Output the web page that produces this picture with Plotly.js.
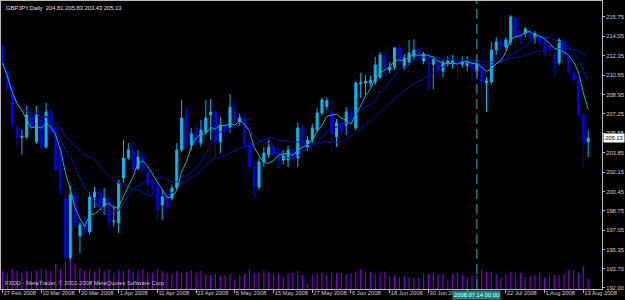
<!DOCTYPE html>
<html><head><meta charset="utf-8">
<script src="https://cdn.plot.ly/plotly-3.0.1.min.js"></script>
<style>html,body{margin:0;padding:0;background:#000;}#chart{width:625px;height:300px;}</style>
</head><body><div id="chart"></div>
<script>
// Daily GBPJPY bars, 27 Feb 2008 .. 14 Aug 2008 (bar index 0..121)
const openP = [213.12,211.02,209.53,206.10,205.20,205.24,207.07,204.80,206.73,204.36,207.43,206.03,204.10,199.89,194.64,200.15,196.56,197.70,196.91,199.97,200.41,199.19,199.88,197.80,197.70,201.64,203.39,204.10,202.50,203.48,202.17,201.10,201.03,199.27,200.15,199.88,200.76,204.10,207.34,204.53,205.90,204.70,205.68,207.16,207.43,204.80,206.29,206.11,207.51,206.55,206.73,204.70,202.60,200.85,203.05,203.66,204.36,203.83,203.20,203.22,204.10,203.40,206.03,204.36,204.97,205.85,207.34,207.90,207.40,205.24,206.47,206.29,207.43,206.03,209.90,209.97,209.97,210.06,210.50,212.42,211.10,211.37,213.03,211.37,211.80,212.30,212.86,211.90,212.16,211.60,211.70,211.00,211.72,211.65,211.80,211.60,211.50,211.70,211.00,211.45,209.97,210.06,212.86,213.56,213.10,213.56,215.66,214.30,214.30,214.40,213.90,214.00,213.90,213.30,212.42,211.72,213.56,212.30,210.85,210.23,207.16,204.81];
const highP = [213.30,211.28,209.70,206.30,205.85,207.95,207.43,207.95,207.60,208.20,207.78,206.29,204.54,200.42,201.00,200.60,197.80,198.40,200.40,200.85,201.20,200.76,200.10,199.27,201.50,204.97,204.70,204.97,204.10,203.90,202.80,201.50,201.50,200.60,200.60,201.00,204.70,208.48,207.77,206.03,206.30,206.73,208.48,208.56,207.60,206.98,206.60,209.00,208.30,207.30,207.20,205.00,203.00,203.40,204.36,204.97,204.80,204.20,204.10,204.50,204.40,206.50,206.30,205.30,206.40,207.80,208.70,208.70,208.30,206.80,206.90,207.86,207.77,210.10,210.85,210.70,210.60,212.25,212.68,212.70,211.80,213.12,213.30,212.50,213.74,213.80,213.10,212.70,212.50,212.30,212.20,212.00,212.30,212.40,212.40,212.30,212.30,212.00,212.00,211.70,210.50,213.56,214.00,213.90,214.00,215.90,215.80,214.50,214.90,214.60,214.50,214.20,214.10,213.60,212.70,213.90,213.80,212.60,211.20,210.50,207.30,205.83];
const lowP = [211.46,209.18,206.10,204.20,203.66,205.06,205.85,204.62,204.10,204.18,205.32,202.17,200.15,194.11,194.30,197.20,195.07,196.60,196.70,199.00,198.70,198.40,197.26,197.35,196.80,201.20,203.20,202.20,202.30,202.10,200.20,200.15,197.96,197.96,198.40,199.70,200.60,203.90,204.27,204.10,204.40,204.40,205.50,204.97,203.40,203.80,204.90,205.60,206.40,206.20,204.20,202.30,199.90,200.60,202.60,203.40,203.30,202.50,202.80,202.60,203.10,202.60,204.10,204.00,204.70,205.60,207.10,207.60,204.00,204.36,205.30,205.40,206.30,205.80,208.65,208.90,209.60,209.80,210.30,210.50,210.80,211.10,211.50,211.10,211.50,212.00,211.90,211.60,209.35,209.40,210.50,210.50,211.40,211.20,210.20,211.30,211.00,210.20,210.50,208.50,207.43,209.80,212.40,212.00,212.80,213.30,213.10,213.30,214.00,213.60,213.40,213.10,212.40,212.30,210.67,211.50,212.10,210.70,209.90,207.00,202.50,203.43];
const closeP = [211.72,209.44,206.37,205.15,205.28,207.16,206.11,207.16,204.36,207.43,205.59,202.35,200.59,194.64,200.15,197.50,197.52,197.00,199.97,200.41,199.10,199.88,197.70,197.87,201.20,203.39,204.10,202.35,203.48,202.35,201.03,200.76,198.84,199.97,199.10,200.76,204.10,206.90,204.53,205.50,204.70,205.85,206.90,207.43,204.80,206.29,205.70,207.86,206.73,206.90,204.54,202.60,200.85,203.05,203.83,204.36,203.66,203.22,203.70,204.10,203.40,206.03,204.36,204.97,206.03,207.34,208.48,208.40,205.50,206.47,205.68,207.43,206.73,209.97,210.00,210.10,210.23,211.54,212.42,211.28,211.37,213.03,211.80,212.16,212.60,212.86,212.42,212.42,211.54,212.00,211.00,211.72,211.90,211.90,211.60,211.90,211.90,211.20,211.72,209.97,210.15,212.86,213.56,213.10,213.74,215.75,214.00,213.90,214.70,214.00,214.30,213.45,212.60,212.90,211.72,213.74,212.42,211.00,210.23,207.16,204.80,205.13];
const volume = [18000,16300,19700,18000,16300,18000,17300,18000,19700,18700,18000,25300,19700,27300,28000,24700,21300,18000,19700,17300,21300,18000,19700,16300,18700,18000,19700,17300,16300,19700,17300,16300,19700,18000,16300,15300,18000,16300,17300,18700,16300,18000,15300,14000,14700,13000,14000,15300,9000,14000,15300,19700,16300,16300,18000,16300,15300,15300,12000,16300,16300,18000,14000,5300,14000,16300,16300,14000,17300,16300,16300,14700,16300,17300,19700,16300,17300,15300,16300,17300,13000,14000,11300,13000,12000,11300,11300,14700,15300,16300,15300,14700,8700,14700,16300,14000,12000,13000,14000,19700,17300,17300,14700,11300,14000,17300,16300,16300,12000,13000,14000,16300,11300,14000,14000,14000,14700,19700,18700,16300,23000,10700];
// tick at bar 96 (10 Jul) is hidden under the cursor date box, as in the original
const tickIdx = [0,8,16,24,32,40,48,56,64,72,80,88,96,104,112,120];
const tickLabels = ["27 Feb 2008","10 Mar 2008","20 Mar 2008","1 Apr 2008","11 Apr 2008","23 Apr 2008","5 May 2008","15 May 2008","27 May 2008","6 Jun 2008","18 Jun 2008","30 Jun 2008","","22 Jul 2008","1 Aug 2008","13 Aug 2008"];
const priceTicks = [215.75,214.05,212.35,210.65,208.95,207.25,205.55,203.85,202.15,200.45,198.75,197.05,195.35,193.70,192.00];
const symbol = "GBPJPY,Daily";
const copyright = "FXDD - MetaTrader, \u00a9 2001-2008 MetaQuotes Software Corp.";
const markerIdx = 98;
const markerLabel = "2008.07.14 00:00";
const maPeriods = [5, 10, 20];

const idx = closeP.map((_, i) => i);
function sma(arr, n) {
  return arr.map((_, i) => {
    const s = Math.max(0, i - n + 1);
    let t = 0; for (let k = s; k <= i; k++) t += arr[k];
    return t / (i - s + 1);
  });
}
const FONT = '"Liberation Sans", Arial, sans-serif';
const last = closeP.length - 1;

const traces = [
  {type:'bar', x: idx, y: volume, yaxis:'y2', marker:{color:'#7a00d0', line:{width:0}}, width:0.25, hoverinfo:'skip'},
  {type:'candlestick', x: idx, open: openP, high: highP, low: lowP, close: closeP,
   increasing:{line:{color:'#00b4f0', width:1}, fillcolor:'#00bfff'},
   decreasing:{line:{color:'#0000d8', width:1}, fillcolor:'#0000ff'},
   whiskerwidth:0, hoverinfo:'skip'},
  {type:'scatter', mode:'lines', x: idx, y: sma(closeP, maPeriods[2]), line:{color:'#1010a8', width:1}, hoverinfo:'skip'},
  {type:'scatter', mode:'lines', x: idx, y: sma(closeP, maPeriods[1]), line:{color:'#1010b8', width:1}, hoverinfo:'skip'},
  {type:'scatter', mode:'lines', x: idx, y: sma(closeP, maPeriods[0]), line:{color:'#20b2aa', width:1}, hoverinfo:'skip'}
];

const layout = {
  width:625, height:300, showlegend:false,
  paper_bgcolor:'#000000', plot_bgcolor:'#000000',
  margin:{l:1, r:23, t:1, b:11, pad:0},
  boxgap:0.4,
  font:{family:FONT, size:6, color:'#d0d0d0'},
  xaxis:{range:[-0.31, 123.86], showgrid:false, zeroline:false, rangeslider:{visible:false},
    showline:true, mirror:true, linecolor:'#b8b8b8', linewidth:1,
    tickmode:'array', tickvals:tickIdx, ticktext:tickLabels, ticks:'outside', ticklen:3, tickcolor:'#b8b8b8',
    tickangle:0, ticklabelposition:'outside right', ticklabelstandoff:-2,
    tickfont:{family:FONT, size:5.8, color:'#d0d0d0'}},
  yaxis:{range:[191.91, 217.15], side:'right', showgrid:false, zeroline:false,
    showline:true, mirror:true, linecolor:'#b8b8b8', linewidth:1,
    tickmode:'array', tickvals:priceTicks, ticktext:priceTicks.map(v => v.toFixed(2)),
    ticks:'outside', ticklen:2, tickcolor:'#b8b8b8', tickfont:{family:FONT, size:5.8, color:'#d0d0d0'}},
  yaxis2:{overlaying:'y', range:[0, 288000], visible:false, fixedrange:true},
  shapes:[{type:'line', xref:'x', yref:'paper', x0:markerIdx, x1:markerIdx, y0:0, y1:1,
    line:{color:'#207a7a', width:1.5, dash:'10px,5px'}}],
  annotations:[
    {xref:'paper', yref:'paper', x:0, y:1, xanchor:'left', yanchor:'top', xshift:3, yshift:-2, showarrow:false,
     text: symbol + '  ' + [openP[last], highP[last], lowP[last], closeP[last]].map(v => v.toFixed(2)).join(' '),
     font:{family:FONT, size:5.8, color:'#e0e0e0'}},
    {xref:'paper', yref:'paper', x:0, y:0, xanchor:'left', yanchor:'bottom', xshift:2, yshift:1, showarrow:false,
     text: copyright, font:{family:FONT, size:5.8, color:'#c8c8c8'}},
    {xref:'paper', yref:'y', x:1, y:closeP[last], xanchor:'left', yanchor:'middle', xshift:1, showarrow:false,
     text: closeP[last].toFixed(2), bgcolor:'#ffffff', borderpad:1,
     font:{family:FONT, size:5.8, color:'#000000'}},
    {xref:'x', yref:'paper', x:markerIdx, y:0, xanchor:'center', yanchor:'top', yshift:-1, showarrow:false,
     text: markerLabel, bgcolor:'#1f8080', borderpad:1,
     font:{family:FONT, size:5.8, color:'#e8ffff'}}
  ]
};
Plotly.newPlot('chart', traces, layout, {displayModeBar:false, staticPlot:true});
</script></body></html>
